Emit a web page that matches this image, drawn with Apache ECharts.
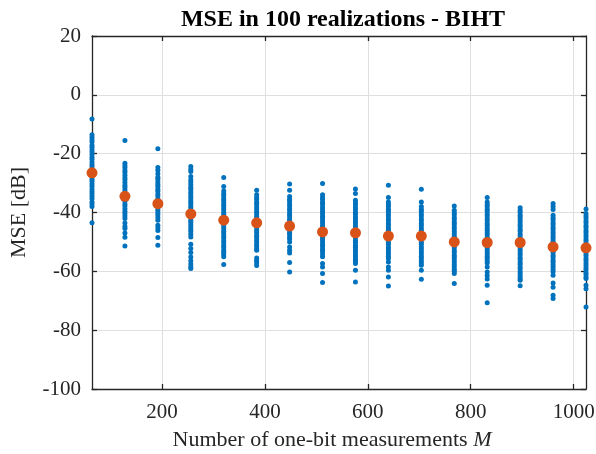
<!DOCTYPE html>
<html>
<head>
<meta charset="utf-8">
<script src="https://cdn.jsdelivr.net/npm/echarts@6/dist/echarts.min.js"></script>
<style>
  html, body {margin: 0; padding: 0; background: #fff;}
  #chart {width: 596px; height: 454px;}
</style>
</head>
<body>
<div id="chart"></div>
<script>
// number of one-bit measurements M
const mValues = [64, 128, 192, 256, 320, 384, 448, 512, 576, 640, 704, 768, 832, 896, 960, 1024];

// MSE [dB] of the realizations, one list per M
const mse64 = [-8.2, -13.6, -14.4, -15.3, -16.0, -17.1, -17.8, -18.7, -19.4, -20.3, -21.2, -21.9, -22.8, -23.7, -24.4, -25.3, -26.2, -26.9, -27.8, -28.7, -29.4, -30.3, -31.1, -32.0, -32.9, -33.6, -34.5, -35.3, -36.4, -37.1, -38.0, -43.5];
const mse128 = [-15.5, -23.3, -24.1, -24.8, -25.7, -26.4, -27.3, -28.2, -28.9, -29.8, -30.7, -31.4, -32.3, -33.0, -33.9, -34.6, -35.5, -36.2, -37.1, -37.8, -38.7, -39.6, -40.3, -41.2, -42.0, -43.6, -44.8, -45.4, -47.0, -48.4, -51.4];
const mse192 = [-18.3, -24.7, -25.6, -26.8, -28.0, -28.7, -29.6, -30.5, -31.2, -32.1, -32.8, -33.7, -34.4, -35.3, -36.0, -36.9, -37.6, -38.5, -39.2, -40.1, -40.8, -41.7, -42.6, -44.3, -45.2, -46.1, -48.5, -51.1];
const mse256 = [-24.4, -25.4, -26.1, -27.8, -28.9, -29.6, -30.5, -31.4, -32.1, -33.0, -33.7, -34.6, -35.3, -36.2, -36.9, -37.8, -38.5, -39.4, -40.1, -41.0, -41.7, -42.6, -43.3, -44.2, -44.9, -45.8, -46.5, -47.4, -48.3, -50.8, -52.2, -53.6, -55.1, -56.4, -57.5, -58.4, -59.0];
const mse320 = [-28.1, -31.2, -32.7, -33.6, -34.3, -35.2, -35.9, -36.8, -37.5, -38.4, -39.1, -40.0, -40.7, -41.6, -42.3, -43.2, -43.9, -44.8, -45.5, -46.4, -47.1, -48.0, -48.7, -49.6, -50.3, -51.2, -51.9, -52.8, -53.5, -54.3, -55.0, -57.7];
const mse384 = [-32.4, -34.0, -34.9, -35.6, -36.5, -37.2, -38.1, -38.8, -39.7, -40.4, -41.3, -42.0, -42.9, -43.6, -44.5, -45.2, -46.1, -46.8, -47.7, -48.4, -49.3, -50.0, -50.9, -51.6, -52.4, -52.8, -55.5, -56.3, -57.1, -58.0];
const mse448 = [-30.3, -32.4, -34.6, -35.5, -36.2, -37.1, -37.8, -38.7, -39.4, -40.3, -41.0, -41.9, -42.6, -43.5, -44.2, -45.1, -45.8, -46.7, -47.4, -48.3, -49.0, -50.0, -51.7, -52.8, -53.8, -57.0, -60.2];
const mse512 = [-30.1, -34.0, -34.9, -35.6, -36.5, -37.2, -38.1, -38.8, -39.7, -40.4, -41.3, -42.0, -42.9, -43.6, -44.5, -45.2, -46.1, -46.8, -47.7, -48.4, -49.3, -50.0, -50.9, -51.6, -52.5, -53.2, -54.1, -55.0, -57.3, -58.5, -60.7, -63.8];
const mse576 = [-32.0, -33.5, -35.8, -36.7, -37.4, -38.3, -39.0, -39.9, -40.6, -41.5, -42.2, -43.1, -43.8, -44.7, -45.4, -46.3, -47.0, -47.9, -48.6, -49.5, -50.2, -51.1, -51.8, -52.7, -53.4, -54.3, -55.0, -55.9, -56.6, -57.3, -59.6, -63.6];
const mse640 = [-30.7, -34.9, -36.4, -37.3, -38.0, -38.9, -39.6, -40.5, -41.2, -42.1, -42.8, -43.7, -44.4, -45.3, -46.0, -46.9, -47.6, -48.5, -49.2, -50.1, -50.8, -51.7, -52.4, -53.3, -54.0, -54.9, -55.6, -56.8, -58.5, -59.6, -61.9, -65.0];
const mse704 = [-32.1, -36.4, -38.0, -38.9, -39.6, -40.5, -41.2, -42.1, -42.8, -43.7, -44.4, -45.3, -46.0, -46.9, -47.6, -48.5, -49.2, -50.1, -50.8, -51.7, -52.4, -53.3, -54.0, -54.9, -55.6, -56.5, -57.2, -57.9, -59.6, -62.7];
const mse768 = [-37.8, -39.2, -40.1, -40.8, -41.7, -42.4, -43.3, -44.0, -44.9, -45.6, -46.5, -47.2, -48.1, -48.8, -49.7, -50.4, -51.3, -52.0, -52.9, -53.6, -54.5, -55.2, -56.1, -56.8, -57.7, -58.4, -59.3, -60.0, -60.7, -64.1];
const mse832 = [-34.9, -36.4, -37.3, -38.0, -38.9, -39.6, -40.5, -41.2, -42.1, -42.8, -43.7, -44.4, -45.3, -46.0, -46.9, -47.6, -48.5, -49.2, -50.1, -50.8, -51.7, -52.4, -53.3, -54.0, -54.9, -55.6, -56.5, -57.2, -58.5, -60.2, -61.4, -62.6, -64.7, -70.7];
const mse896 = [-38.4, -39.3, -40.0, -40.9, -41.6, -42.5, -43.2, -44.1, -44.8, -45.7, -46.4, -47.3, -48.0, -48.9, -49.6, -50.5, -51.2, -52.1, -52.8, -53.7, -54.4, -55.3, -56.0, -56.9, -57.6, -58.5, -59.2, -60.1, -60.8, -61.7, -62.4, -63.0, -64.9];
const mse960 = [-36.9, -38.0, -39.0, -40.9, -41.8, -42.5, -43.4, -44.1, -45.0, -45.7, -46.6, -47.3, -48.2, -48.9, -49.8, -50.5, -51.4, -52.1, -53.0, -53.7, -54.6, -55.3, -56.2, -56.9, -57.8, -58.5, -59.4, -60.1, -61.3, -64.0, -65.4, -68.1, -69.2];
const mse1024 = [-38.8, -40.3, -41.2, -41.9, -42.8, -43.5, -44.4, -45.1, -46.0, -46.7, -47.6, -48.3, -49.2, -49.9, -50.8, -51.5, -52.4, -53.1, -54.0, -54.7, -55.6, -56.3, -57.2, -57.9, -58.8, -59.5, -60.4, -61.1, -61.9, -62.4, -64.7, -65.9, -72.1];

// mean MSE per M (orange markers)
const mseMean = [-26.5, -34.5, -37.0, -40.5, -42.6, -43.5, -44.6, -46.6, -46.9, -48.0, -48.0, -50.0, -50.2, -50.2, -51.7, -52.0];

const xTicks = [200, 400, 600, 800, 1000];
const yMin = -100, yMax = 20, yStep = 20;

const allRuns = [mse64, mse128, mse192, mse256, mse320, mse384, mse448, mse512,
  mse576, mse640, mse704, mse768, mse832, mse896, mse960, mse1024];

const scatterData = [];
allRuns.forEach((runs, i) => {
  runs.forEach(v => scatterData.push([mValues[i], v]));
});
const meanData = mValues.map((m, i) => [m, mseMean[i]]);

const FONT = "Liberation Serif";
const AXIS_COLOR = "#262626";

const chart = echarts.init(document.getElementById("chart"), null, {renderer: "canvas"});

const xBase = {
  type: "value",
  min: 64,
  max: 1024,
  axisLine: {show: true, onZero: false, lineStyle: {color: AXIS_COLOR, width: 1.3}},
  axisTick: {show: true, inside: true, length: 5, customValues: xTicks, lineStyle: {color: AXIS_COLOR, width: 1.3}},
};
const yBase = {
  type: "value",
  min: yMin,
  max: yMax,
  interval: yStep,
  axisLine: {show: true, onZero: false, lineStyle: {color: AXIS_COLOR, width: 1.3}},
  axisTick: {show: true, inside: true, length: 5, lineStyle: {color: AXIS_COLOR, width: 1.3}},
};

chart.setOption({
  animation: false,
  backgroundColor: "#fff",
  title: {
    text: "MSE in 100 realizations - BIHT",
    left: 338,
    top: 3,
    textAlign: "center",
    textStyle: {fontFamily: FONT, fontWeight: "bold", fontSize: 24, color: "#000"},
  },
  grid: {left: 92, right: 10, top: 36, bottom: 65, containLabel: false, outerBoundsMode: "none"},
  xAxis: [
    Object.assign({}, xBase, {
      position: "bottom",
      axisLabel: {
        show: true, customValues: xTicks, margin: 13,
        fontFamily: FONT, fontSize: 21, color: AXIS_COLOR,
        formatter: v => String(v),
      },
      splitLine: {show: true, lineStyle: {color: "#dfdfdf", width: 1}},
      name: "{n|Number of one-bit measurements }{m|M}",
      nameLocation: "middle",
      nameGap: 40,
      nameMoveOverlap: false,
      nameTextStyle: {
        padding: [0, 14, 0, 0],
        rich: {
          n: {fontFamily: FONT, fontSize: 22, color: AXIS_COLOR},
          m: {fontFamily: FONT, fontSize: 22, fontStyle: "italic", color: AXIS_COLOR},
        },
      },
    }),
    Object.assign({}, xBase, {
      position: "top",
      axisLabel: {show: false},
      splitLine: {show: false},
    }),
  ],
  yAxis: [
    Object.assign({}, yBase, {
      position: "left",
      axisLabel: {show: true, margin: 11, fontFamily: FONT, fontSize: 21, color: AXIS_COLOR},
      splitLine: {show: true, lineStyle: {color: "#dfdfdf", width: 1}},
      name: "MSE [dB]",
      nameLocation: "middle",
      nameGap: 62,
      nameMoveOverlap: false,
      nameTextStyle: {fontFamily: FONT, fontSize: 22, color: AXIS_COLOR},
    }),
    Object.assign({}, yBase, {
      position: "right",
      axisLabel: {show: false},
      splitLine: {show: false},
    }),
  ],
  series: [
    {
      type: "scatter",
      xAxisIndex: 0,
      yAxisIndex: 0,
      data: scatterData,
      symbol: "circle",
      symbolSize: 5,
      itemStyle: {color: "#0072BD", opacity: 1},
      z: 2,
    },
    {
      type: "scatter",
      xAxisIndex: 0,
      yAxisIndex: 0,
      data: meanData,
      symbol: "circle",
      symbolSize: 11,
      itemStyle: {color: "#D95319", opacity: 1},
      z: 3,
    },
  ],
});
</script>
</body>
</html>
